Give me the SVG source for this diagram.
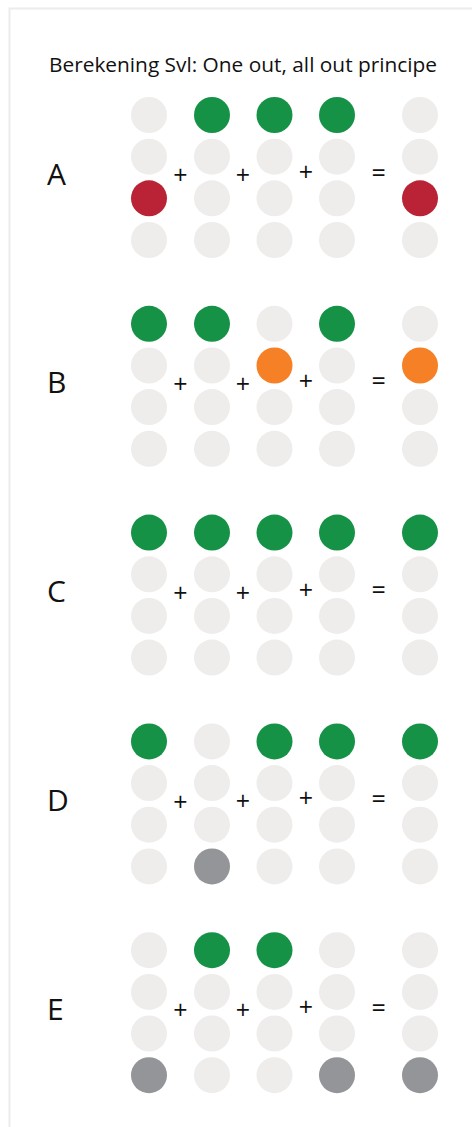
<svg xmlns="http://www.w3.org/2000/svg" width="472" height="1127" viewBox="0 0 472 1127">
<style>
.l{fill:#EEEDEC}.g{fill:#169247}.r{fill:#BA2236}.o{fill:#F58025}.k{fill:#939598}
.t{font-family:"Open Sans","Liberation Sans",sans-serif;fill:#111}
.op{font-family:"Open Sans","Liberation Sans",sans-serif;font-size:25px;fill:#111;text-anchor:middle}
.lab{font-family:"Open Sans","Liberation Sans",sans-serif;font-size:30px;fill:#111}
</style>
<rect width="472" height="1127" fill="#fff"/>
<path d="M9.5,1127 V8.5 H472" fill="none" stroke="#ECECEC" stroke-width="2"/>
<text class="t" x="49" y="72" font-size="20" textLength="388" lengthAdjust="spacingAndGlyphs">Berekening Svl: One out, all out principe</text>

<g id="rowA">
<text class="lab" x="47" y="184.7">A</text>
<circle class="l" cx="149" cy="115" r="18"/><circle class="g" cx="212" cy="115" r="18"/><circle class="g" cx="274.5" cy="115" r="18"/><circle class="g" cx="337" cy="115" r="18"/><circle class="l" cx="420" cy="115" r="18"/>
<circle class="l" cx="149" cy="156.7" r="18"/><circle class="l" cx="212" cy="156.7" r="18"/><circle class="l" cx="274.5" cy="156.7" r="18"/><circle class="l" cx="337" cy="156.7" r="18"/><circle class="l" cx="420" cy="156.7" r="18"/>
<circle class="r" cx="149" cy="198.3" r="18"/><circle class="l" cx="212" cy="198.3" r="18"/><circle class="l" cx="274.5" cy="198.3" r="18"/><circle class="l" cx="337" cy="198.3" r="18"/><circle class="r" cx="420" cy="198.3" r="18"/>
<circle class="l" cx="149" cy="240" r="18"/><circle class="l" cx="212" cy="240" r="18"/><circle class="l" cx="274.5" cy="240" r="18"/><circle class="l" cx="337" cy="240" r="18"/><circle class="l" cx="420" cy="240" r="18"/>
<text class="op" x="180.5" y="184.3">+</text><text class="op" x="243" y="184">+</text><text class="op" x="306" y="181">+</text><text class="op" x="378.7" y="181.5">=</text>
</g>

<g id="rowB" transform="translate(0,208.8)">
<text class="lab" x="47" y="184.7">B</text>
<circle class="g" cx="149" cy="115" r="18"/><circle class="g" cx="212" cy="115" r="18"/><circle class="l" cx="274.5" cy="115" r="18"/><circle class="g" cx="337" cy="115" r="18"/><circle class="l" cx="420" cy="115" r="18"/>
<circle class="l" cx="149" cy="156.7" r="18"/><circle class="l" cx="212" cy="156.7" r="18"/><circle class="o" cx="274.5" cy="156.7" r="18"/><circle class="l" cx="337" cy="156.7" r="18"/><circle class="o" cx="420" cy="156.7" r="18"/>
<circle class="l" cx="149" cy="198.3" r="18"/><circle class="l" cx="212" cy="198.3" r="18"/><circle class="l" cx="274.5" cy="198.3" r="18"/><circle class="l" cx="337" cy="198.3" r="18"/><circle class="l" cx="420" cy="198.3" r="18"/>
<circle class="l" cx="149" cy="240" r="18"/><circle class="l" cx="212" cy="240" r="18"/><circle class="l" cx="274.5" cy="240" r="18"/><circle class="l" cx="337" cy="240" r="18"/><circle class="l" cx="420" cy="240" r="18"/>
<text class="op" x="180.5" y="184.3">+</text><text class="op" x="243" y="184">+</text><text class="op" x="306" y="181">+</text><text class="op" x="378.7" y="181.5">=</text>
</g>

<g id="rowC" transform="translate(0,417.6)">
<text class="lab" x="47" y="184.7">C</text>
<circle class="g" cx="149" cy="115" r="18"/><circle class="g" cx="212" cy="115" r="18"/><circle class="g" cx="274.5" cy="115" r="18"/><circle class="g" cx="337" cy="115" r="18"/><circle class="g" cx="420" cy="115" r="18"/>
<circle class="l" cx="149" cy="156.7" r="18"/><circle class="l" cx="212" cy="156.7" r="18"/><circle class="l" cx="274.5" cy="156.7" r="18"/><circle class="l" cx="337" cy="156.7" r="18"/><circle class="l" cx="420" cy="156.7" r="18"/>
<circle class="l" cx="149" cy="198.3" r="18"/><circle class="l" cx="212" cy="198.3" r="18"/><circle class="l" cx="274.5" cy="198.3" r="18"/><circle class="l" cx="337" cy="198.3" r="18"/><circle class="l" cx="420" cy="198.3" r="18"/>
<circle class="l" cx="149" cy="240" r="18"/><circle class="l" cx="212" cy="240" r="18"/><circle class="l" cx="274.5" cy="240" r="18"/><circle class="l" cx="337" cy="240" r="18"/><circle class="l" cx="420" cy="240" r="18"/>
<text class="op" x="180.5" y="184.3">+</text><text class="op" x="243" y="184">+</text><text class="op" x="306" y="181">+</text><text class="op" x="378.7" y="181.5">=</text>
</g>

<g id="rowD" transform="translate(0,626.4)">
<text class="lab" x="47" y="184.7">D</text>
<circle class="g" cx="149" cy="115" r="18"/><circle class="l" cx="212" cy="115" r="18"/><circle class="g" cx="274.5" cy="115" r="18"/><circle class="g" cx="337" cy="115" r="18"/><circle class="g" cx="420" cy="115" r="18"/>
<circle class="l" cx="149" cy="156.7" r="18"/><circle class="l" cx="212" cy="156.7" r="18"/><circle class="l" cx="274.5" cy="156.7" r="18"/><circle class="l" cx="337" cy="156.7" r="18"/><circle class="l" cx="420" cy="156.7" r="18"/>
<circle class="l" cx="149" cy="198.3" r="18"/><circle class="l" cx="212" cy="198.3" r="18"/><circle class="l" cx="274.5" cy="198.3" r="18"/><circle class="l" cx="337" cy="198.3" r="18"/><circle class="l" cx="420" cy="198.3" r="18"/>
<circle class="l" cx="149" cy="240" r="18"/><circle class="k" cx="212" cy="240" r="18"/><circle class="l" cx="274.5" cy="240" r="18"/><circle class="l" cx="337" cy="240" r="18"/><circle class="l" cx="420" cy="240" r="18"/>
<text class="op" x="180.5" y="184.3">+</text><text class="op" x="243" y="184">+</text><text class="op" x="306" y="181">+</text><text class="op" x="378.7" y="181.5">=</text>
</g>

<g id="rowE" transform="translate(0,835.2)">
<text class="lab" x="47" y="184.7">E</text>
<circle class="l" cx="149" cy="115" r="18"/><circle class="g" cx="212" cy="115" r="18"/><circle class="g" cx="274.5" cy="115" r="18"/><circle class="l" cx="337" cy="115" r="18"/><circle class="l" cx="420" cy="115" r="18"/>
<circle class="l" cx="149" cy="156.7" r="18"/><circle class="l" cx="212" cy="156.7" r="18"/><circle class="l" cx="274.5" cy="156.7" r="18"/><circle class="l" cx="337" cy="156.7" r="18"/><circle class="l" cx="420" cy="156.7" r="18"/>
<circle class="l" cx="149" cy="198.3" r="18"/><circle class="l" cx="212" cy="198.3" r="18"/><circle class="l" cx="274.5" cy="198.3" r="18"/><circle class="l" cx="337" cy="198.3" r="18"/><circle class="l" cx="420" cy="198.3" r="18"/>
<circle class="k" cx="149" cy="240" r="18"/><circle class="l" cx="212" cy="240" r="18"/><circle class="l" cx="274.5" cy="240" r="18"/><circle class="k" cx="337" cy="240" r="18"/><circle class="k" cx="420" cy="240" r="18"/>
<text class="op" x="180.5" y="184.3">+</text><text class="op" x="243" y="184">+</text><text class="op" x="306" y="181">+</text><text class="op" x="378.7" y="181.5">=</text>
</g>
</svg>
